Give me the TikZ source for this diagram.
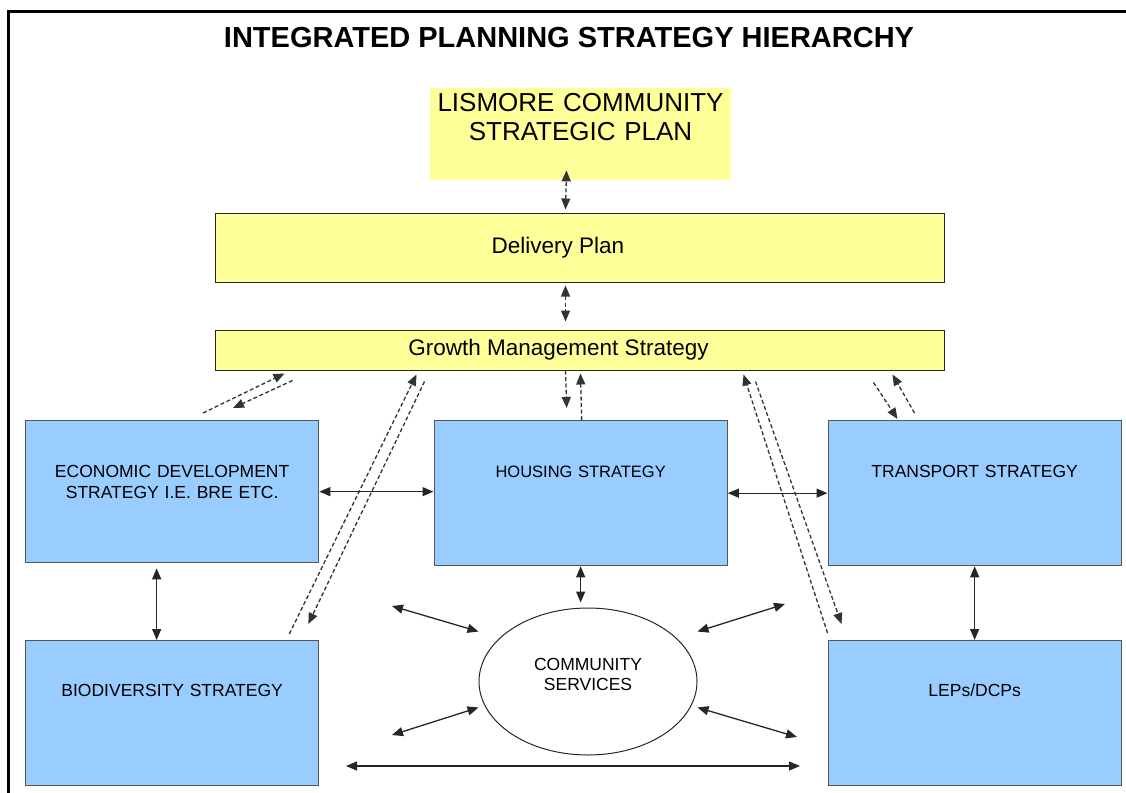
\documentclass[tikz,border=0pt]{standalone}
\usepackage{fontspec}
\setmainfont{Liberation Sans}
\usetikzlibrary{arrows.meta,shapes.geometric}

\definecolor{planyellow}{HTML}{FFFF99}
\definecolor{strategyblue}{HTML}{99CCFF}
\definecolor{boxgrey}{HTML}{555555}

\begin{document}
\begin{tikzpicture}[x=1pt,y=-1pt,>={Triangle[length=11pt,width=9pt]},
    plan/.style={fill=planyellow,draw=black!85,line width=1pt,minimum width=729pt,inner sep=0pt,font=\fontsize{22.5}{27}\selectfont},
    strategy/.style={fill=strategyblue,draw=boxgrey,line width=1.3pt,anchor=north west,inner sep=0pt,text width=293pt,align=center,font=\fontsize{17.5}{21}\selectfont},
    link/.style={<->,line width=1.3pt,draw=black!85},
    feed/.style={->,line width=1.3pt,draw=black!80,dash pattern=on 4pt off 2.5pt}]
    \useasboundingbox (0,0) rectangle (1126,792);
    \draw[line width=3pt] (1130,12) -- (8,12) -- (8,796);

    \node[font=\fontsize{29}{34}\selectfont\bfseries] (title) at (569,38) {INTEGRATED PLANNING STRATEGY HIERARCHY};

    % plans at the top
    \node[fill=planyellow,anchor=north,text width=301pt,align=center,inner sep=0pt,
          text height=23.3pt,text depth=68.7pt,font=\fontsize{26}{29}\selectfont]
          (lismore_plan) at (580.5,88) {LISMORE COMMUNITY\\STRATEGIC PLAN};
    \node[plan,minimum height=69pt] (delivery_plan) at (579.5,247.5) {Delivery Plan\hspace*{43pt}};
    \node[plan,minimum height=40pt] (growth_strategy) at (579.5,350) {Growth Management Strategy\hspace*{42pt}};

    % strategies
    \node[strategy,text height=57pt,text depth=85pt] (econ_strategy) at (25,420) {ECONOMIC DEVELOPMENT\\STRATEGY I.E. BRE ETC.};
    \node[strategy,text height=57pt,text depth=88pt,font=\fontsize{16.5}{20}\selectfont] (housing_strategy) at (433.5,420) {HOUSING STRATEGY};
    \node[strategy,text height=57pt,text depth=88pt] (transport_strategy) at (827.5,420) {TRANSPORT STRATEGY};
    \node[strategy,text height=56pt,text depth=89pt] (bio_strategy) at (25,640) {BIODIVERSITY STRATEGY};
    \node[strategy,text height=56pt,text depth=89pt] (lep_dcp) at (827.5,640) {LEPs/DCPs};

    \node[ellipse,draw=black!85,line width=1pt,minimum width=218pt,minimum height=147pt,inner sep=0pt,
          align=center,text height=33pt,text depth=15.4pt,font=\fontsize{17.5}{20}\selectfont]
          (community_services) at (588,681.5) {COMMUNITY\\SERVICES};

    \coordinate (cs_nw) at (392,606);
    \coordinate (cs_ne) at (785,604);
    \coordinate (cs_sw) at (392,735);
    \coordinate (cs_se) at (797,737);
    \coordinate (base_w) at (346,766);
    \coordinate (base_e) at (800,766);

    % dashed feedback between plans and strategies
    \path ([xshift=-14pt,yshift=3pt]delivery_plan.north) edge[feed,<->] ([xshift=-14pt,yshift=10pt]lismore_plan.south);
    \path ([xshift=-14pt,yshift=-3pt]delivery_plan.south) edge[feed,<->] ([xshift=-14pt,yshift=8pt]growth_strategy.north);
    \path ([xshift=-14pt]growth_strategy.south) edge[feed] ([xshift=-14pt,yshift=12pt]housing_strategy.north);
    \path ([xshift=1pt]housing_strategy.north) edge[feed] ([xshift=1pt,yshift=-3pt]growth_strategy.south);

    \path ([xshift=178pt,yshift=7pt]econ_strategy.north west) edge[feed] ([xshift=70pt,yshift=-3pt]growth_strategy.south west);
    \path ([xshift=78pt,yshift=-10pt]growth_strategy.south west) edge[feed] ([xshift=208pt,yshift=12pt]econ_strategy.north west);
    \path ([xshift=-30pt,yshift=6pt]bio_strategy.north east) edge[feed] ([xshift=202pt,yshift=-4pt]growth_strategy.south west);
    \path ([xshift=210pt,yshift=-11pt]growth_strategy.south west) edge[feed] ([xshift=-11pt,yshift=16pt]bio_strategy.north east);
    \path ([yshift=7pt]lep_dcp.north west) edge[feed] ([xshift=-201pt,yshift=-4pt]growth_strategy.south east);
    \path ([xshift=-189pt,yshift=-11pt]growth_strategy.south east) edge[feed] ([xshift=14pt,yshift=16pt]lep_dcp.north west);
    \path ([xshift=87pt,yshift=7pt]transport_strategy.north west) edge[feed] ([xshift=-52pt,yshift=-4pt]growth_strategy.south east);
    \path ([xshift=-71pt,yshift=-12pt]growth_strategy.south east) edge[feed] ([xshift=70pt,yshift=1pt]transport_strategy.north west);

    % solid links
    \path (econ_strategy.east) edge[link] (econ_strategy.east -| housing_strategy.west);
    \path (housing_strategy.east) edge[link] (housing_strategy.east -| transport_strategy.west);
    \path ([xshift=-15.5pt,yshift=-5pt]econ_strategy.south) edge[link] ([xshift=-15.5pt]bio_strategy.north);
    \path (transport_strategy.south) edge[link] (lep_dcp.north);
    \path (housing_strategy.south) edge[link,shorten >=5pt] (housing_strategy.south |- community_services.north);

    \path (cs_nw) edge[link] ([yshift=50pt]community_services.west);
    \path (cs_ne) edge[link] ([yshift=50pt]community_services.east);
    \path (cs_sw) edge[link] ([yshift=-26pt]community_services.west);
    \path (cs_se) edge[link] ([yshift=-26pt]community_services.east);
    \path (base_w) edge[link] (base_e);
\end{tikzpicture}
\end{document}
